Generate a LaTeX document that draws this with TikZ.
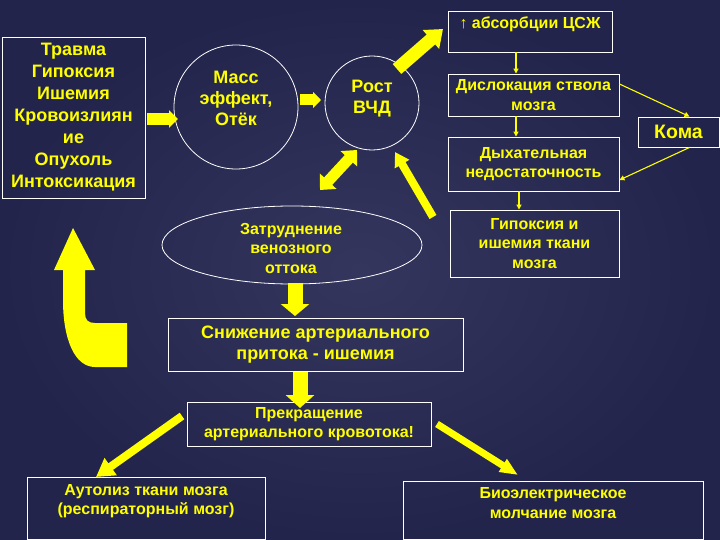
\documentclass[tikz,border=0pt]{standalone}
\usepackage{fontspec}
\setmainfont{Liberation Sans}
\usetikzlibrary{shapes.geometric,arrows.meta,calc}
\definecolor{bgin}{HTML}{34365E}
\definecolor{bgout}{HTML}{22244C}
\definecolor{yel}{HTML}{FFFF00}
\newcommand\fsBig{\fontsize{18}{22}\selectfont}
\newcommand\fsMid{\fontsize{18}{21}\selectfont}
\newcommand\fsSm{\fontsize{16}{19.5}\selectfont}
\tikzset{
  box/.style={draw=white, line width=0.9pt, inner sep=0pt, rectangle},
  ring/.style={draw=white, line width=0.8pt, inner sep=0pt},
  txt/.style={text=yel, font=\bfseries\fsSm, align=center, inner sep=0pt},
  fat/.style args={#1/#2/#3}{draw=yel, line width=#1, -{Triangle[width=#2,length=#3]}},
  dfat/.style args={#1/#2/#3}{draw=yel, line width=#1, {Triangle[width=#2,length=#3]}-{Triangle[width=#2,length=#3]}},
  thinarr/.style={draw=yel, line width=1.1pt, -{Triangle[width=5pt,length=5pt]}}
}
\begin{document}
\begin{tikzpicture}[x=1pt,y=-1pt]
\shade[inner color=bgin, outer color=bgout] (0,0) rectangle (720,540);
\useasboundingbox (0,0) rectangle (720,540);

% left causes box
\node[box, minimum width=143pt, minimum height=161pt] (causes) at (73.5,117.5) {};
\node[txt, font=\bfseries\fsBig] (causestxt) at (73.5,117) {Травма\\Гипоксия\\Ишемия\\Кровоизлиян\\ие\\Опухоль\\Интоксикация};

% circles
\node[ring, circle, minimum size=124pt] (mass) at (236,107) {};
\node[txt, font=\bfseries\fsMid] (masstxt) at (236,98) {Масс\\эффект,\\Отёк};
\node[ring, circle, minimum size=94pt] (icp) at (372,103) {};
\node[txt, font=\bfseries\fsMid] (icptxt) at (372,99) {Рост\\ВЧД};

% ellipse
\node[ring, ellipse, minimum width=260pt, minimum height=78pt] (venous) at (292,245) {};
\node[txt] (venoustxt) at (291,248) {Затруднение\\венозного\\оттока};

% right column
\node[box, minimum width=164pt, minimum height=41pt] (absorb) at (530,31.5) {};
\node[txt] (absorbtxt) at (530,24) {↑ абсорбции ЦСЖ};
\node[box, minimum width=171pt, minimum height=42pt, txt] (disloc) at (533.5,95) {Дислокация ствола\\мозга};
\node[box, minimum width=171pt, minimum height=54pt, txt] (breath) at (533.5,164) {Дыхательная\\недостаточность};
\node[box, minimum width=169pt, minimum height=67pt, txt] (hypox) at (534.5,243.5) {Гипоксия и\\ишемия ткани\\мозга};
\node[box, minimum width=81pt, minimum height=30pt, txt, font=\bfseries\fontsize{19.5}{22}\selectfont] (coma) at (678.5,132) {Кома};

% lower boxes
\node[box, minimum width=295pt, minimum height=53pt, txt, font=\bfseries\fsMid] (reduce) at (315.5,344.5) {Снижение артериального\\притока - ишемия};
\node[box, minimum width=244pt, minimum height=44pt, txt] (stop) at (309,424) {Прекращение\\артериального кровотока!};
\node[box, minimum width=238pt, minimum height=62pt] (autol) at (146,508) {};
\node[txt] (autoltxt) at (146,501) {Аутолиз ткани мозга\\(респираторный мозг)};
\node[box, minimum width=300pt, minimum height=58pt] (bio) at (553,510) {};
\node[txt] (biotxt) at (553,503) {Биоэлектрическое\\молчание мозга};

% thin arrows
\draw[thinarr] ([xshift=-14pt]absorb.south) -- ([xshift=-17.5pt]disloc.north);
\draw[thinarr] ([xshift=-17.5pt]disloc.south) -- ([xshift=-17.5pt]breath.north);
\draw[thinarr] ([xshift=-14.5pt]breath.south) -- ([xshift=-15.5pt]hypox.north);
\draw[thinarr] ([yshift=11pt]disloc.east) -- ([xshift=11pt]coma.north);
\draw[thinarr] ([xshift=11pt]coma.south) -- ([yshift=-16pt]breath.east);

% fat arrow end points
\coordinate (a1s) at (147,119); \coordinate (a1e) at (178,119);
\coordinate (a2s) at (300,100); \coordinate (a2e) at (321,100);
\coordinate (a3s) at (320,190); \coordinate (a3e) at (357,150);
\coordinate (a4s) at (433,217); \coordinate (a4e) at (395,152);
\coordinate (a5s) at (397,69);  \coordinate (a5e) at (443,29);
\coordinate (a6s) at (295,283); \coordinate (a6e) at (295,316);
\coordinate (a7s) at (300,372); \coordinate (a7e) at (300,408);
\coordinate (a8s) at (182,416); \coordinate (a8e) at (96,477);
\coordinate (a9s) at (437,424); \coordinate (a9e) at (518,475);

\draw[fat={12pt/17pt/9pt}] (a1s) -- (a1e);
\draw[fat={11pt/16pt/8pt}] (a2s) -- (a2e);
\draw[dfat={11pt/22pt/12pt}] (a3s) -- (a3e);
\draw[fat={8pt/16pt/14pt}] (a4s) -- (a4e);
\draw[fat={13pt/24pt/16pt}] (a5s) -- (a5e);
\draw[fat={15pt/28pt/12pt}] (a6s) -- (a6e);
\draw[fat={15pt/28pt/13pt}] (a7s) -- (a7e);
\draw[fat={8pt/20pt/18pt}] (a8s) -- (a8e);
\draw[fat={7pt/14pt/18pt}] (a9s) -- (a9e);

% big return arrow
\fill[yel] (73,228) -- (95,270) -- (85,270) -- (85,313)
  .. controls (85,320) and (88,323) .. (95,323) -- (127,323) -- (127,367) -- (95,367)
  .. controls (75,367) and (63,340) .. (63,300) -- (63,270) -- (54,270) -- cycle;
\end{tikzpicture}
\end{document}
